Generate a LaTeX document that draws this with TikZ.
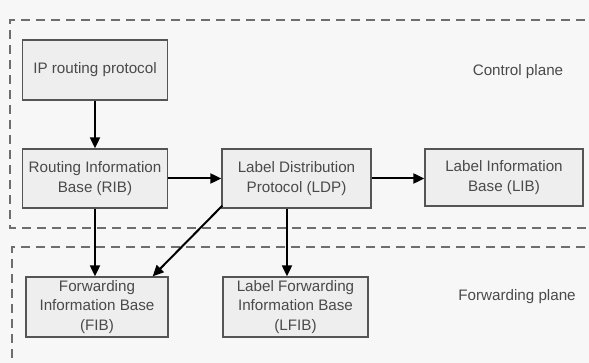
\documentclass[tikz,border=0pt]{standalone}
\usepackage{fontspec}
\setmainfont{Liberation Sans}
\usetikzlibrary{arrows.meta,calc}
\definecolor{boxfill}{HTML}{EEEEEE}
\definecolor{boxline}{HTML}{555555}
\definecolor{txt}{HTML}{4A4A4A}
\definecolor{planeline}{HTML}{6E6E6E}
\begin{document}
\begin{tikzpicture}[x=1pt,y=-1pt,
  block/.style={draw=boxline, line width=1.3pt, fill=boxfill, text=txt,
    align=center, inner sep=0pt, font=\fontsize{15.2}{19.5}\selectfont},
  flow/.style={draw=black, line width=2pt, -{Triangle[length=11pt,width=10pt]}},
  plane/.style={draw=planeline, line width=1.5pt, dash pattern=on 9pt off 6pt},
  planelabel/.style={text=txt, font=\fontsize{15.2}{19.5}\selectfont, inner sep=0pt}]
  \clip (0,0) rectangle (589,363);
  \fill[white!97!black] (0,0) rectangle (589,363);

  % control and forwarding planes
  \draw[plane] (630,20) -- (10,20) -- (10,228) -- (630,228);
  \draw[plane] (630,247) -- (12,247) -- (12,380);

  % blocks
  \node[block, minimum width=145pt, minimum height=60pt] (ip)   at (95,70)    {IP routing protocol};
  \node[block, minimum width=145pt, minimum height=59pt] (rib)  at (95,178.5) {Routing Information\\Base (RIB)};
  \node[block, minimum width=149pt, minimum height=59pt] (ldp)  at (296.5,178.5) {Label Distribution\\Protocol (LDP)};
  \node[block, minimum width=158pt, minimum height=57pt] (lib)  at (504,177.5)  {Label Information\\Base (LIB)};
  \node[block, minimum width=142pt, minimum height=60pt] (fib)  at (97,307)     {Forwarding\\Information Base\\(FIB)};
  \node[block, minimum width=145pt, minimum height=60pt] (lfib) at (295.5,307)  {Label Forwarding\\Information Base\\(LFIB)};

  \node[planelabel] (cp) at (518,72)  {Control plane};
  \node[planelabel] (fp) at (517,297) {Forwarding plane};

  % connectors
  \draw[flow] ($(ip.south)+(0,0)$) -- ($(rib.north)+(0,0)$);
  \draw[flow] ($(rib.east)+(0,0)$) -- ($(ldp.west)+(0,0)$);
  \draw[flow] ($(ldp.east)+(0,0)$) coordinate (ldpr) -- (ldpr -| lib.west);
  \draw[flow] ($(rib.south)+(0,0)$) coordinate (ribb) -- (ribb |- fib.north);
  \draw[flow] ($(ldp.south west)+(1,-3)$) -- ($(fib.north east)+(-16,0)$);
  \draw[flow] ($(ldp.south)+(-9.5,0)$) coordinate (ldpout) -- (ldpout |- lfib.north);
\end{tikzpicture}
\end{document}
